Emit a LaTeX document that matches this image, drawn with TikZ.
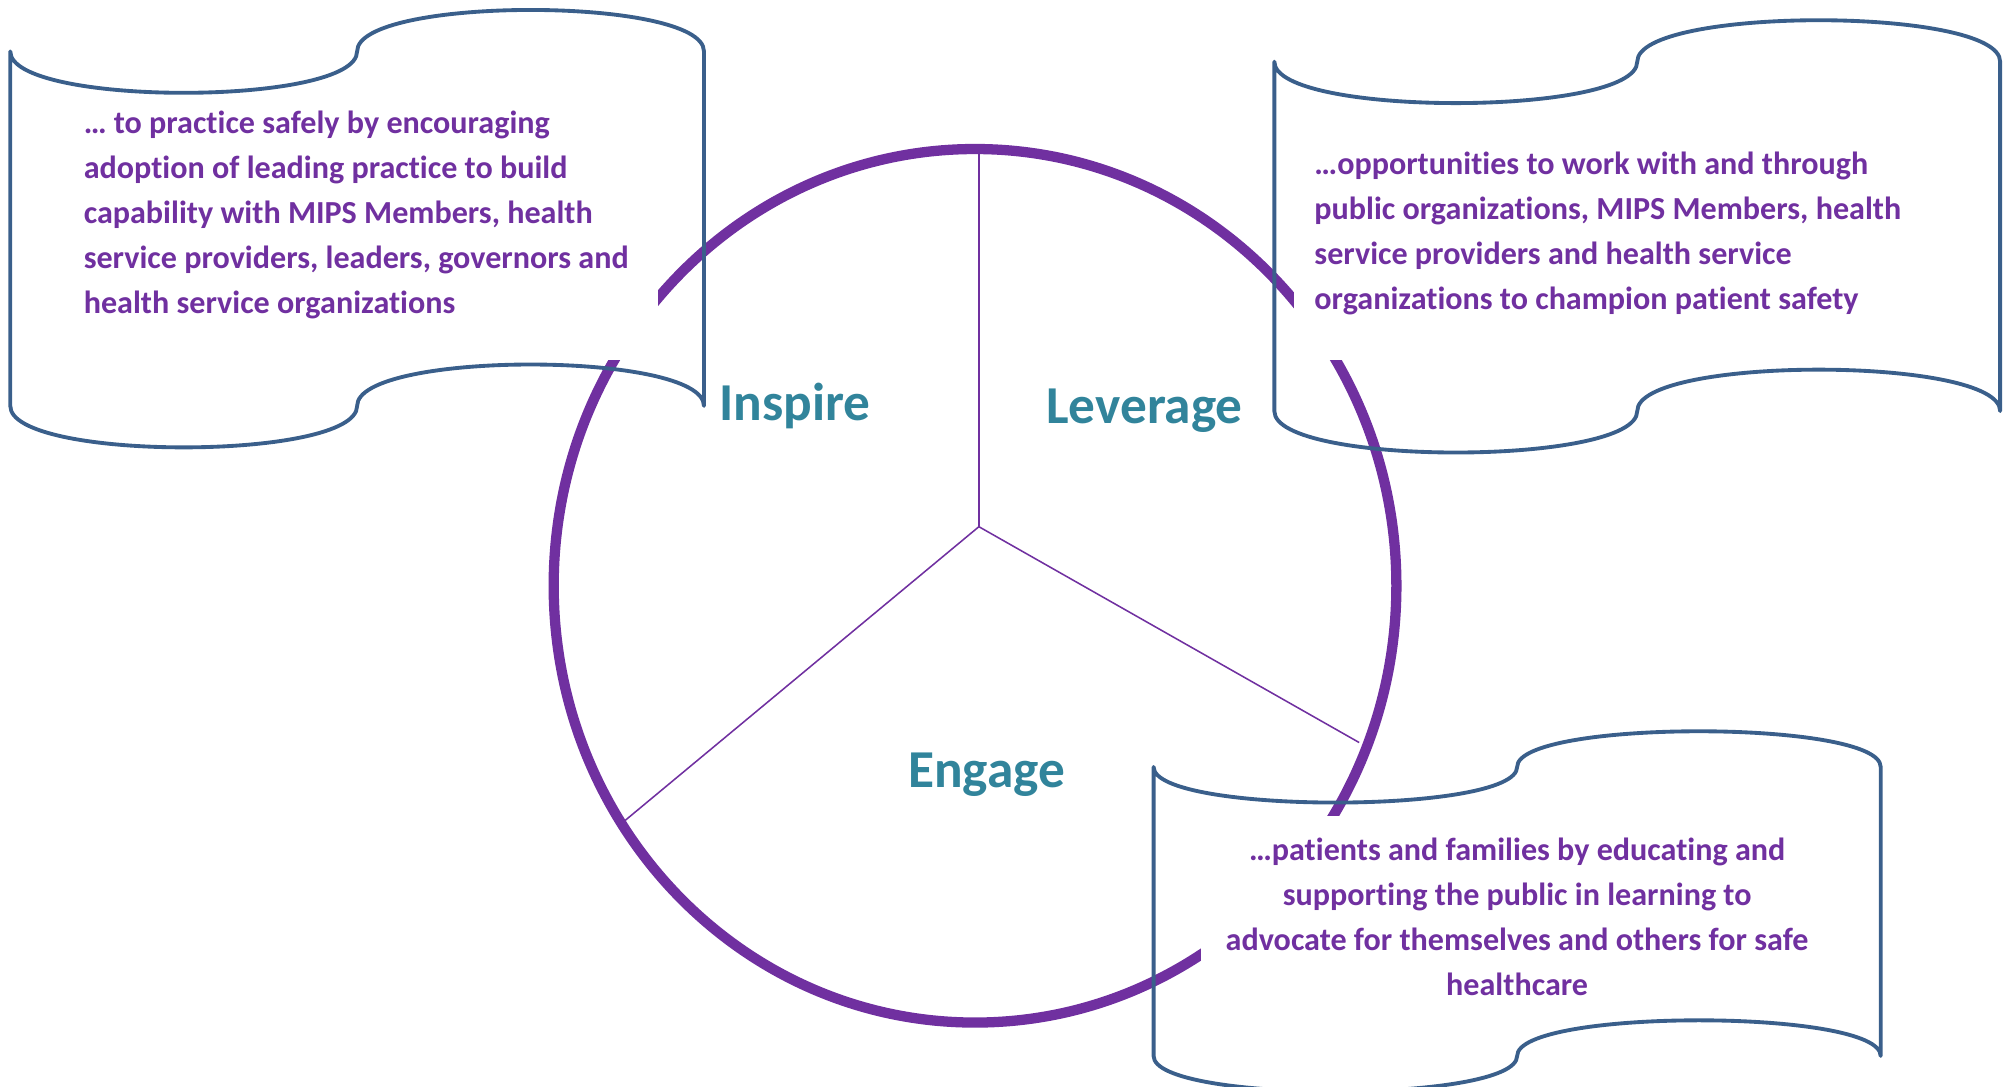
\documentclass[tikz,border=0pt]{standalone}
\usepackage{fontspec}
\setmainfont{Carlito}[Ligatures=NoCommon]
\usepackage{xcolor}
\definecolor{Ring}{HTML}{7030A0}
\definecolor{Label}{HTML}{31849B}
\definecolor{Wave}{HTML}{3A5F8B}

% wave outline: left, right, top, bottom, bend
\newcommand{\waveoutline}[5]{
    \draw[Wave, line width=3pt, line join=round]
        (#1,#3) .. controls (#1,#3+#5) and ({(#1+#2)/2},#3+#5) .. ({(#1+#2)/2},#3)
        .. controls ({(#1+#2)/2},#3-#5) and (#2,#3-#5) .. (#2,#3)
        -- (#2,#4)
        .. controls (#2,#4-#5) and ({(#1+#2)/2},#4-#5) .. ({(#1+#2)/2},#4)
        .. controls ({(#1+#2)/2},#4+#5) and (#1,#4+#5) .. (#1,#4)
        -- cycle;
}

\begin{document}
\begin{tikzpicture}[x=1pt, y=-1pt,
    bodytext/.style={inner sep=0pt, text=Ring, font=\fontsize{25}{35}\selectfont\bfseries},
    label/.style={text=Label, font=\fontsize{41.5}{48}\selectfont\bfseries},
    spoke/.style={Ring, line width=1.2pt}]
        \useasboundingbox (0,0) rectangle (1560,845.5);

        % Define the ring
        \def\cx{759}
        \def\cy{456}
        \def\rx{328}
        \def\ry{340}

        % Draw the ring and the spokes
        \draw[Ring, line width=8pt] (\cx,\cy) ellipse [x radius=\rx, y radius=\ry];
        \coordinate (hub) at (762,410);
        \coordinate (topend) at (762,119);
        \coordinate (leftend) at (485,640);
        \coordinate (rightend) at (1058,578);
        \foreach \e in {topend, leftend, rightend} {
            \draw[spoke] (hub) -- (\e);
        }

        % White panels behind the texts
        \fill[white] (35,75) rectangle (512,280);
        \fill[white] (1007,85) rectangle (1530,280);
        \fill[white] (935,635) rectangle (1430,800);

        % Draw the three waves
        \waveoutline{8}{548}{40}{316}{43}
        \waveoutline{992}{1557}{48}{320}{43}
        \waveoutline{898}{1464}{597}{822}{37}

        % Add the texts
        \node[bodytext, anchor=north west, align=left] (inspiretext) at (65,86)
            {… to practice safely by encouraging\\adoption of leading practice to build\\capability with MIPS Members, health\\service providers, leaders, governors and\\health service organizations};
        \node[bodytext, anchor=north west, align=left] (leveragetext) at (1023,118)
            {…opportunities to work with and through\\public organizations, MIPS Members, health\\service providers and health service\\organizations to champion patient safety};
        \node[bodytext, anchor=north, align=center] (engagetext) at (1181,652)
            {…patients and families by educating and\\supporting the public in learning to\\advocate for themselves and others for safe\\healthcare};

        % Add the labels
        \node[label] (inspire) at (619,316) {Inspire};
        \node[label] (leverage) at (891,320) {Leverage};
        \node[label] (engage) at (768,603) {Engage};
    \end{tikzpicture}
\end{document}
